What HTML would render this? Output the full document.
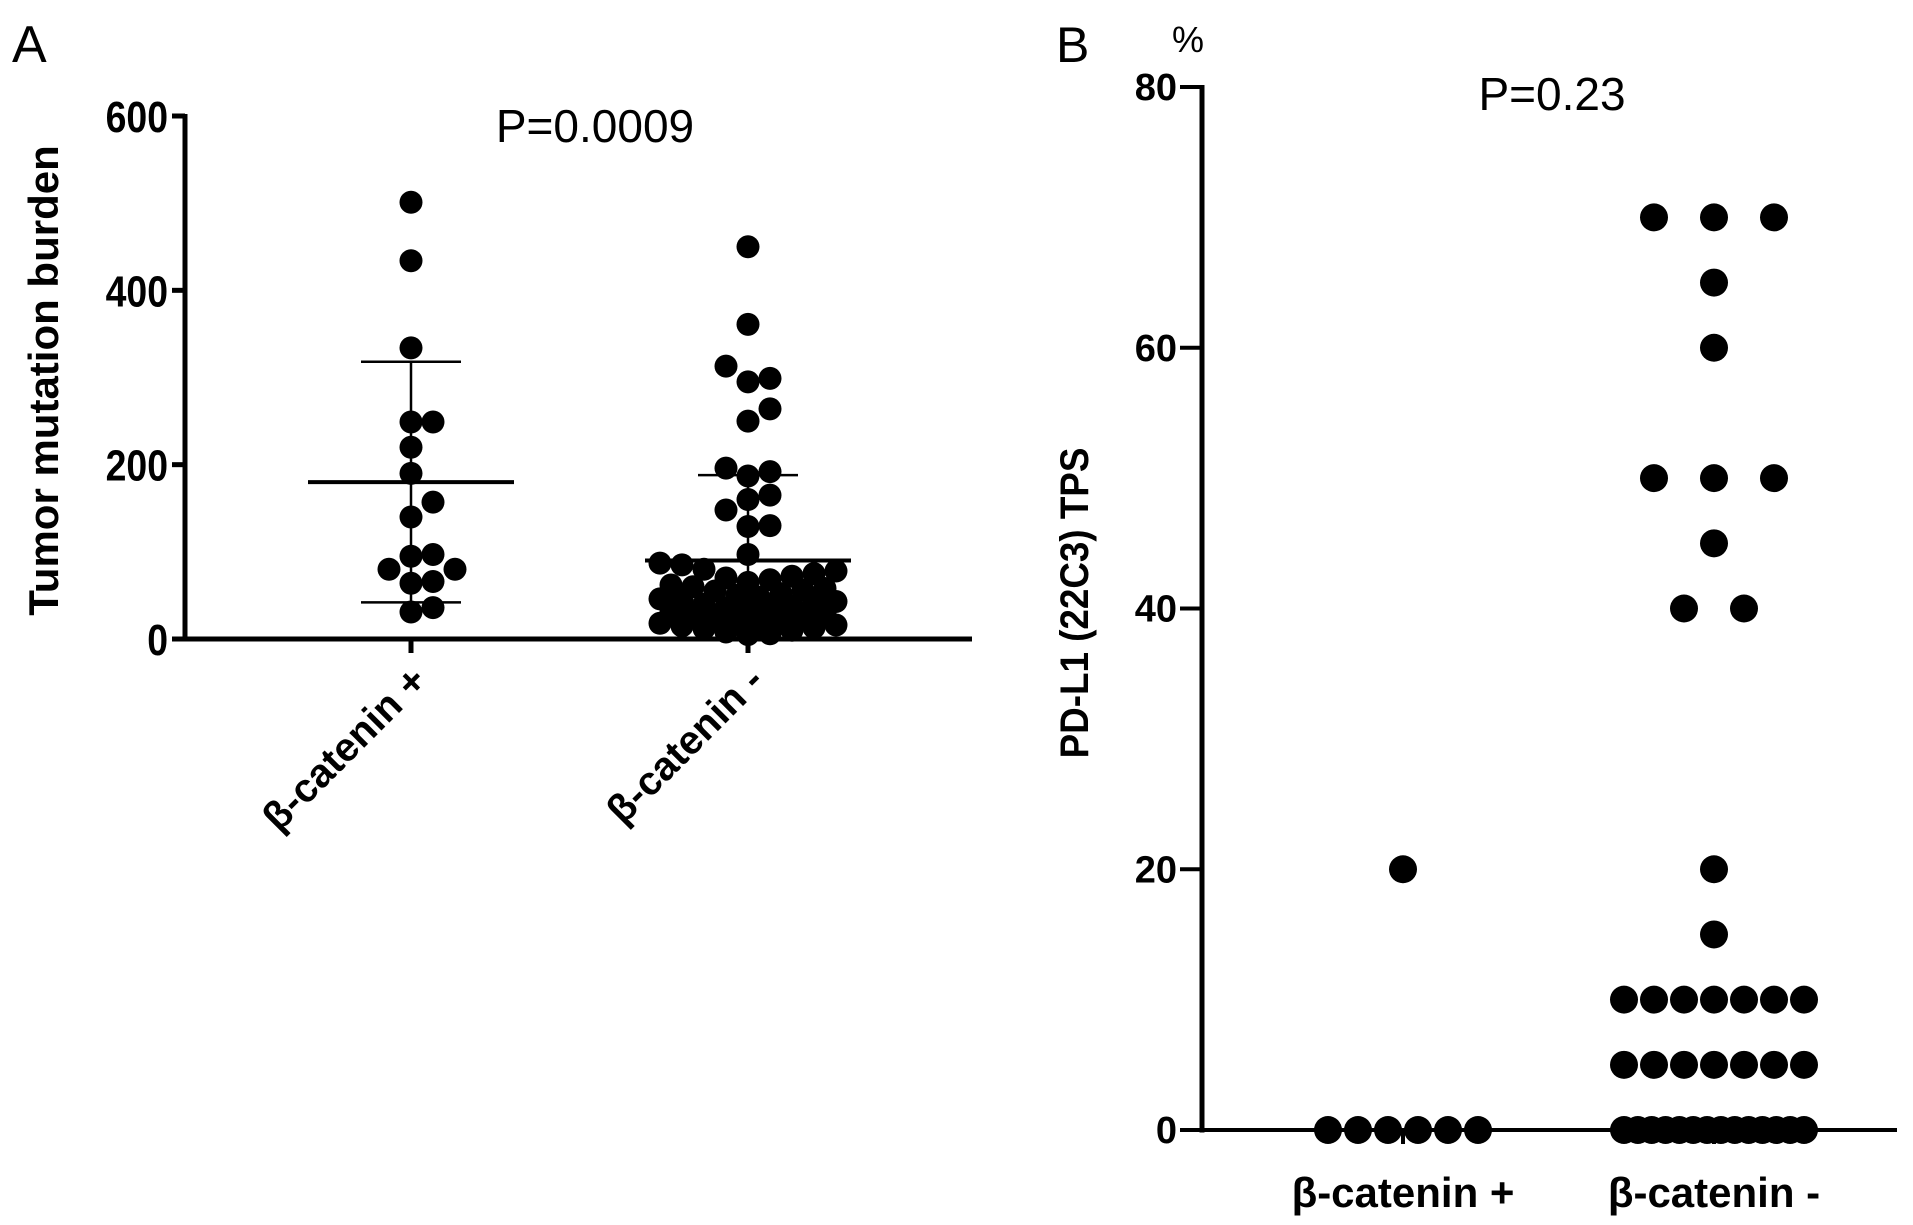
<!DOCTYPE html>
<html><head><meta charset="utf-8">
<style>
html,body{margin:0;padding:0;background:#fff;}
svg{display:block;font-family:"Liberation Sans",Arial,sans-serif;}
</style></head>
<body>
<svg id="fig" width="1913" height="1225" viewBox="0 0 1913 1225">
  <g id="panelA"></g>
  <g id="panelB"></g>
</svg>
<script>
// ---------- Panel A data ----------
const aCategories = ["β-catenin +", "β-catenin -"];
const aTicks = [0, 200, 400, 600];
const aPosValues = [501, 434, 334, 249, 249, 220, 190, 157, 140, 97, 95, 80, 80, 66, 64, 36, 31];
const aNegValues = [450, 361, 313, 299, 295, 264, 250, 196, 192, 187, 165, 160, 148, 130, 129, 97, 87,
  85, 80, 78, 75, 72, 70, 68, 65, 62, 60, 58, 56, 55, 52, 50, 48, 46, 45, 43, 42, 40, 38, 36, 35, 33,
  31, 30, 28, 26, 25, 23, 22, 20, 18, 16, 15, 13, 12, 10, 8, 6, 5];
const aMean = [180, 90];
const aSDTop = [318, 188];
const aSDBottom = [42, 0];
const aPText = "P=0.0009";

// ---------- Panel B data ----------
const bCategories = ["β-catenin +", "β-catenin -"];
const bTicks = [0, 20, 40, 60, 80];
const bPosValues = [20, 0, 0, 0, 0, 0, 0];
const bNegValues = [70, 70, 70, 65, 60, 50, 50, 50, 45, 40, 40, 20, 15,
  10, 10, 10, 10, 10, 10, 10, 5, 5, 5, 5, 5, 5, 5,
  0, 0, 0, 0, 0, 0, 0, 0, 0, 0, 0, 0, 0, 0];
const bPText = "P=0.23";

const NS = "http://www.w3.org/2000/svg";
function mk(parent, tag, attrs, text) {
  const e = document.createElementNS(NS, tag);
  for (const k in attrs) e.setAttribute(k, attrs[k]);
  if (text !== undefined) e.textContent = text;
  parent.appendChild(e);
  return e;
}

// ---------- Panel A ----------
(function () {
  const g = document.getElementById("panelA");
  const x0 = 185, yZero = 639, yTop = 116, xEnd = 972;
  const y = v => yZero - (v - 0) / 600 * (yZero - yTop);
  const cx = [411, 748];
  const r = 11.5;

  let t = mk(g, "text", {x: 12, y: 62, "font-size": 52}, "A");
  
  

  let ax = mk(g, "line", {x1: x0, y1: yTop - 2, x2: x0, y2: yZero + 2.5, stroke: "#000", "stroke-width": 5});
  
  
  ax = mk(g, "line", {x1: x0 - 2.5, y1: yZero, x2: xEnd, y2: yZero, stroke: "#000", "stroke-width": 5});
  
  

  aTicks.forEach(v => {
    const tk = mk(g, "line", {x1: x0 - 13, y1: y(v), x2: x0, y2: y(v), stroke: "#000", "stroke-width": 5});
    
    
    const tl = mk(g, "text", {x: 0, y: 0, "font-size": 44, "font-weight": "bold", "text-anchor": "end",
      transform: "translate(" + (x0 - 17) + "," + (y(v) + 16) + ") scale(0.85,1)"}, String(v));
    
    
  });

  const yt = mk(g, "text", {x: 0, y: 0, "font-size": 42, "font-weight": "bold", "text-anchor": "middle",
    transform: "translate(58," + ((yTop + yZero) / 2 + 3) + ") rotate(-90)"}, "Tumor mutation burden");
  
  

  const pt = mk(g, "text", {x: 595, y: 142, "font-size": 46, "text-anchor": "middle"}, aPText);
  
  

  aCategories.forEach((c, i) => {
    const tk = mk(g, "line", {x1: cx[i], y1: yZero, x2: cx[i], y2: yZero + 14, stroke: "#000", "stroke-width": 5});
    
    
    const tl = mk(g, "text", {x: 0, y: 0, "font-size": 40, "font-weight": "bold", "text-anchor": "end",
      transform: "translate(" + (cx[i] + 18) + "," + (yZero + 44) + ") rotate(-45)"}, c);
    
    
  });

  function swarm(values, center) {
    const placed = [];
    const sorted = values.slice().sort((a, b) => a - b);
    const maxOff = 92;
    sorted.forEach(v => {
      const py = y(v);
      let best = null, bestScore = Infinity;
      const cands = [0];
      for (let k = 1; k * 22 <= maxOff; k++) cands.push(k * 22, -k * 22);
      for (let k = 0; k * 22 + 11 <= maxOff; k++) cands.push(k * 22 + 11, -(k * 22 + 11));
      for (const off of cands) {
        const px = center + off;
        let minD = Infinity;
        placed.forEach(p => { minD = Math.min(minD, Math.hypot(p[0] - px, p[1] - py)); });
        if (minD >= 2 * r - 1) { best = px; break; }
        const score = -minD + Math.abs(off) * 0.01;
        if (score < bestScore) { bestScore = score; best = px; }
      }
      placed.push([best, py, v]);
    });
    return placed;
  }
  [aPosValues, aNegValues].forEach((vals, i) => {
    swarm(vals, cx[i]).forEach(p => {
      const d = mk(g, "circle", {cx: p[0], cy: p[1], r: r, fill: "#000"});
      
      
    });
    const m = mk(g, "line", {x1: cx[i] - 103, y1: y(aMean[i]), x2: cx[i] + 103, y2: y(aMean[i]), stroke: "#000", "stroke-width": 4});
    
    
    const e = mk(g, "line", {x1: cx[i], y1: y(aSDTop[i]), x2: cx[i], y2: y(aSDBottom[i]), stroke: "#000", "stroke-width": 2.5});
    
    
    const c1 = mk(g, "line", {x1: cx[i] - 50, y1: y(aSDTop[i]), x2: cx[i] + 50, y2: y(aSDTop[i]), stroke: "#000", "stroke-width": 2.5});
    
    
    if (aSDBottom[i] > 0) {
      const c2 = mk(g, "line", {x1: cx[i] - 50, y1: y(aSDBottom[i]), x2: cx[i] + 50, y2: y(aSDBottom[i]), stroke: "#000", "stroke-width": 2.5});
      
      
    }
  });
})();

// ---------- Panel B ----------
(function () {
  const g = document.getElementById("panelB");
  const x0 = 1202, yZero = 1130, yTop = 87, xEnd = 1897;
  const y = v => yZero - v / 80 * (yZero - yTop);
  const cx = [1403, 1714];
  const r = 14, step = 30, maxW = 6 * step;

  let t = mk(g, "text", {x: 1056, y: 62, "font-size": 50}, "B");
  
  
  t = mk(g, "text", {x: 1172, y: 52, "font-size": 36}, "%");
  
  

  let ax = mk(g, "line", {x1: x0, y1: yTop - 2, x2: x0, y2: yZero + 2.5, stroke: "#000", "stroke-width": 5});
  
  
  ax = mk(g, "line", {x1: x0 - 2.5, y1: yZero, x2: xEnd, y2: yZero, stroke: "#000", "stroke-width": 4});
  
  

  bTicks.forEach(v => {
    const tk = mk(g, "line", {x1: x0 - 22, y1: y(v), x2: x0, y2: y(v), stroke: "#000", "stroke-width": 4});
    
    
    const tl = mk(g, "text", {x: x0 - 25, y: y(v) + 13, "font-size": 38, "font-weight": "bold", "text-anchor": "end"}, String(v));
    
    
  });

  const yt = mk(g, "text", {x: 0, y: 0, "font-size": 40, "font-weight": "bold", "text-anchor": "middle",
    transform: "translate(1088,603) rotate(-90) scale(0.92,1)"}, "PD-L1 (22C3) TPS");
  
  

  const pt = mk(g, "text", {x: 1552, y: 110, "font-size": 46, "text-anchor": "middle"}, bPText);
  
  

  bCategories.forEach((c, i) => {
    const tk = mk(g, "line", {x1: cx[i], y1: yZero, x2: cx[i], y2: yZero + 14, stroke: "#000", "stroke-width": 4});
    
    
    const tl = mk(g, "text", {x: cx[i], y: 1207, "font-size": 42, "font-weight": "bold", "text-anchor": "middle"}, c);
    
    
  });

  [bPosValues, bNegValues].forEach((vals, i) => {
    const groups = {};
    vals.forEach(v => { (groups[v] = groups[v] || []).push(v); });
    Object.keys(groups).forEach(k => {
      const n = groups[k].length;
      let s = n > 7 ? maxW / (n - 1) : step;
      const spread = n < 4 && +k >= 40 ? 2 * step : s;
      groups[k].forEach((v, j) => {
        const px = cx[i] + (j - (n - 1) / 2) * (n === 1 ? 0 : spread);
        const d = mk(g, "circle", {cx: px, cy: y(v), r: r, fill: "#000"});
        
        
      });
    });
  });
})();
</script>
</body></html>
